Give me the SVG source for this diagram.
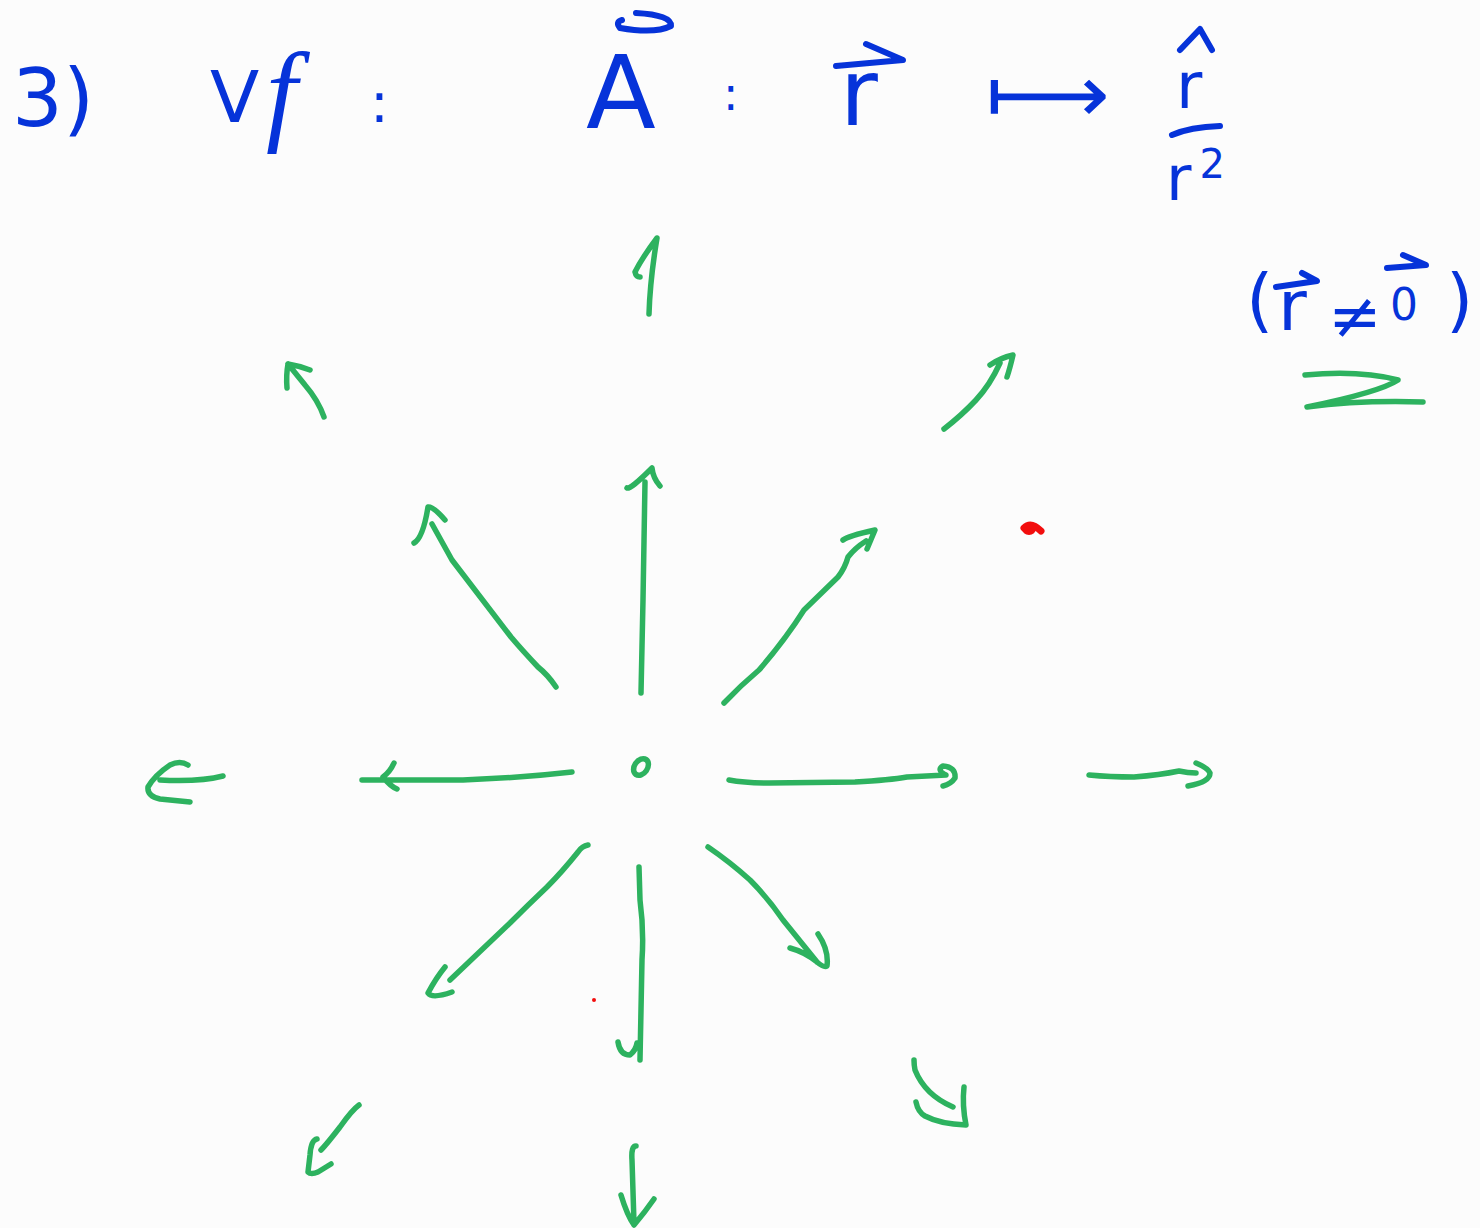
<svg xmlns="http://www.w3.org/2000/svg" width="1480" height="1228" viewBox="0 0 1480 1228">
<style>
.t{font-family:"DejaVu Sans","Noto Sans",sans-serif;fill:#0633d9}
.b{stroke:#0633d9;stroke-width:6;fill:none;stroke-linecap:round;stroke-linejoin:round}
.g{stroke:#2db25f;stroke-width:5.5;fill:none;stroke-linecap:round;stroke-linejoin:round}
</style>
<rect width="1480" height="1228" fill="#fcfcfc"/>
<g id="formula">
<text class="t" x="12" y="126" font-size="80">3)</text>
<text class="t" x="210" y="122" font-size="72">V</text>
<text x="266" y="130" font-size="112" font-style="italic" style="font-family:'Liberation Serif',serif;fill:#0633d9">f</text>
<text class="t" x="370" y="122" font-size="56">:</text>
<text class="t" x="586" y="128" font-size="102">A</text>
<path class="b" d="M636 13 Q672 15 671 26 Q655 34 620 28 Q615 22 622 20"/>
<text class="t" x="723" y="110" font-size="46">:</text>
<text class="t" x="840" y="125" font-size="92">r</text>
<path class="b" d="M836 66 L903 60 L866 44"/>
<text class="t" x="986" y="122" font-size="80" textLength="124" lengthAdjust="spacingAndGlyphs">⟼</text>
<text class="t" x="1176" y="108" font-size="64">r</text>
<path class="b" d="M1180 50 L1200 29 L1212 50"/>
<path class="b" d="M1172 135 Q1190 127 1220 126"/>
<text class="t" x="1166" y="200" font-size="62">r<tspan font-size="40" dx="8" dy="-22">2</tspan></text>
<text class="t" x="1246" y="324" font-size="70">(</text>
<text class="t" x="1278" y="330" font-size="70">r</text>
<path class="b" d="M1276 287 L1317 281 L1302 273"/>
<text class="t" x="1328" y="338" font-size="64">≠</text>
<text class="t" x="1390" y="320" font-size="44">0</text>
<path class="b" d="M1387 268 L1426 265 L1403 255"/>
<text class="t" x="1446" y="324" font-size="70">)</text>
</g>
<g id="marks">
<path class="g" d="M1305 375 Q1360 370 1398 380 Q1380 392 1307 407 Q1360 400 1423 402"/>
<ellipse cx="641" cy="767" rx="9" ry="6.5" transform="rotate(-55 641 767)" class="g"/>
<ellipse cx="1029" cy="529" rx="7" ry="6" fill="#f20d0d"/>
<path d="M1024 528 Q1031 521 1041 531" stroke="#f20d0d" stroke-width="7" fill="none" stroke-linecap="round"/>
<circle cx="594" cy="1000" r="2" fill="#f20d0d"/>
</g>
<g id="field">
<g id="inner-up"><path class="g" d="M641 693 L643 600 L645 482 M627 488 Q630 490 652 468 Q653 478 660 486"/></g>
<g id="inner-up-right"><path class="g" d="M724 703 Q740 686 759 670 Q785 640 804 610 L838 577 Q845 568 848 557 Q855 548 866 541 M843 540 Q848 536 875 530 L867 549"/></g>
<g id="inner-up-left"><path class="g" d="M556 687 Q548 675 538 667 Q522 650 511 637 L452 560 L432 524 M414 543 Q423 538 428 507 Q433 506 445 520"/></g>
<g id="inner-right"><path class="g" d="M729 780 Q745 783 769 783 L855 782 Q890 780 907 777 L946 775 Q936 770 943 766 Q956 767 955 778 Q951 784 943 786"/></g>
<g id="inner-left"><path class="g" d="M572 772 Q520 778 463 780 L362 780 M394 763 Q390 772 383 777 Q390 786 397 789"/></g>
<g id="inner-down-left"><path class="g" d="M588 845 Q582 846 578 852 Q562 872 547 887 Q528 905 510 923 L450 980 M445 967 Q436 978 428 993 Q432 999 452 992"/></g>
<g id="inner-down"><path class="g" d="M639 867 L640 900 Q644 930 642 960 L640 1060 M618 1042 Q620 1055 630 1055 Q636 1050 637 1043"/></g>
<g id="inner-down-right"><path class="g" d="M708 847 Q730 862 750 880 Q768 898 783 920 L817 962 M790 948 Q805 952 817 962 Q824 968 827 966 Q829 950 818 934"/></g>
<g id="outer-up"><path class="g" d="M649 314 Q650 280 657 238 Q642 258 635 272 Q636 277 640 277"/></g>
<g id="outer-up-left"><path class="g" d="M324 417 Q318 400 305 385 L288 364 M310 370 Q300 366 288 364 Q286 375 287 388"/></g>
<g id="outer-up-right"><path class="g" d="M944 429 Q962 415 976 400 Q990 385 1000 363 M990 365 Q1000 358 1013 355 Q1010 368 1007 377"/></g>
<g id="outer-right"><path class="g" d="M1089 775 Q1110 777 1134 777 Q1160 775 1179 771 Q1188 773 1196 773 M1196 763 Q1208 768 1210 773 Q1210 782 1188 786"/></g>
<g id="outer-left"><path class="g" d="M223 776 Q200 782 160 780 M188 765 Q180 760 170 765 Q155 775 148 787 Q147 796 160 799 L190 802"/></g>
<g id="outer-down-left"><path class="g" d="M359 1105 Q352 1110 340 1127 Q326 1145 321 1150 M317 1139 Q311 1140 310 1155 L308 1172 Q311 1175 318 1172 L331 1164"/></g>
<g id="outer-down"><path class="g" d="M636 1146 Q631 1146 632 1160 L634 1223 M621 1195 Q627 1215 634 1225 Q645 1212 654 1199"/></g>
<g id="outer-down-right"><path class="g" d="M914 1060 Q914 1065 915 1070 Q925 1095 953 1107 M916 1102 Q918 1112 925 1116 Q940 1124 966 1125 Q962 1105 964 1087"/></g>
</g>
</svg>
